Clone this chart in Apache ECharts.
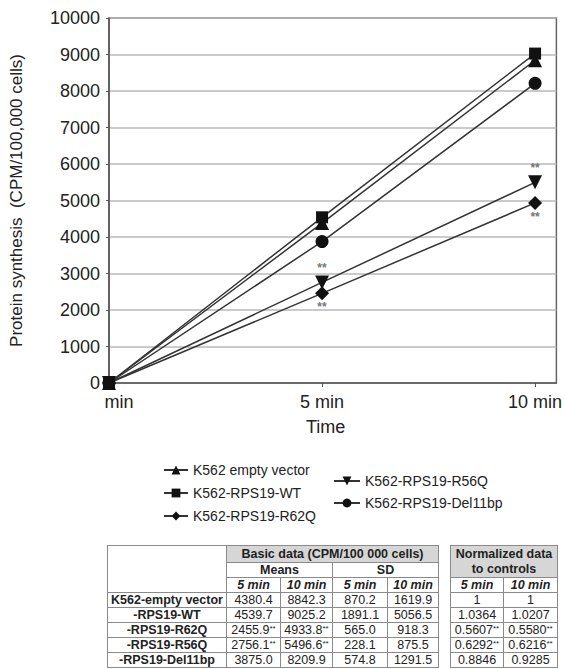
<!DOCTYPE html>
<html>
<head>
<meta charset="utf-8">
<script src="https://cdn.jsdelivr.net/npm/echarts@6/dist/echarts.min.js"></script>
<style>
  html, body { margin: 0; padding: 0; background: #fff; }
  body { width: 565px; height: 669px; overflow: hidden; position: relative; font-family: 'Liberation Sans', Arial, sans-serif; }
  #chart { position: absolute; left: 0; top: 0; width: 565px; height: 669px; }
  table { position: absolute; border-collapse: collapse; table-layout: fixed; font-size: 12.5px; color: #222; }
  td { border: 1px solid #8a8a8a; padding: 0; text-align: center; white-space: nowrap; overflow: hidden; line-height: 13px; height: 14px; }
  td.hd { background: #d6d6d6; font-weight: bold; }
  td.b { font-weight: bold; }
  td.bi { font-weight: bold; font-style: italic; }
  sup { font-size: 8px; vertical-align: 3px; line-height: 0; }
  #basic { left: 107px; top: 545px; }
  #norm { left: 450px; top: 545px; }
</style>
</head>
<body>
<div id="chart"></div>
<table id="basic"></table>
<table id="norm"></table>
<script>
(function() {
  // time points (min) and tick labels
  var times = [0, 5, 10];
  var timeLabels = ['min', '5 min', '10 min'];

  var groups = ['K562 empty vector', 'K562-RPS19-WT', 'K562-RPS19-R62Q', 'K562-RPS19-R56Q', 'K562-RPS19-Del11bp'];
  var rowLabels = ['K562-empty vector', '-RPS19-WT', '-RPS19-R62Q', '-RPS19-R56Q', '-RPS19-Del11bp'];

  // basic data (CPM/100 000 cells)
  var means5 = [4380.4, 4539.7, 2455.9, 2756.1, 3875.0];
  var means10 = [8842.3, 9025.2, 4933.8, 5496.6, 8209.9];
  var sd5 = [870.2, 1891.1, 565.0, 228.1, 574.8];
  var sd10 = [1619.9, 5056.5, 918.3, 875.5, 1291.5];
  // normalized to controls
  var norm5 = ['1', '1.0364', '0.5607', '0.6292', '0.8846'];
  var norm10 = ['1', '1.0207', '0.5580', '0.6216', '0.9285'];
  var significant = [false, false, true, true, false];

  var symbols = ['triangle', 'rect', 'diamond', 'triangle', 'circle'];
  var symbolRotate = [0, 0, 0, 180, 0];
  var symbolSizes = [14, 12, 14, 14, 13];
  var starPos = [null, null, 'bottom', 'top', null];

  var ink = '#222';

  var series = groups.map(function(name, i) {
    var vals = [0, means5[i], means10[i]];
    return {
      name: name,
      type: 'line',
      symbol: symbols[i],
      symbolRotate: symbolRotate[i],
      symbolSize: symbolSizes[i],
      z: i === 1 ? 5 : 2,
      lineStyle: { color: '#333', width: 1.5 },
      itemStyle: { color: '#111' },
      data: times.map(function(t, k) {
        var item = { value: [t, vals[k]] };
        if (significant[i] && k > 0) {
          item.label = {
            show: true, formatter: '**', position: starPos[i], distance: 1,
            color: '#777', fontSize: 12, fontWeight: 'bold'
          };
        }
        return item;
      })
    };
  });

  var chart = echarts.init(document.getElementById('chart'), null, { renderer: 'svg' });
  chart.setOption({
    animation: false,
    textStyle: { fontFamily: "'Liberation Sans', Arial, sans-serif" },
    grid: { left: 107, right: 7, top: 18, bottom: 286, show: true, borderColor: '#666', borderWidth: 1.5 },
    legend: [
      {
        data: groups.slice(0, 3), orient: 'vertical', left: 158, top: 458,
        itemWidth: 24, itemHeight: 11, itemGap: 9,
        textStyle: { color: ink, fontSize: 14 }
      },
      {
        data: groups.slice(3), orient: 'vertical', left: 328, top: 469,
        itemWidth: 26, itemHeight: 11, itemGap: 8,
        textStyle: { color: ink, fontSize: 14 }
      }
    ],
    xAxis: {
      type: 'value', min: 0, max: 10.5, interval: 5,
      name: 'Time', nameLocation: 'middle', nameGap: 35,
      nameTextStyle: { color: ink, fontSize: 18, padding: [0, 14, 0, 0] },
      axisLine: { lineStyle: { color: '#555', width: 1.5 } },
      axisTick: { show: true, length: 4, lineStyle: { color: '#555' } },
      splitLine: { show: false },
      axisLabel: {
        color: ink, fontSize: 18, margin: 10, showMaxLabel: false,
        formatter: function(v) {
          var k = times.indexOf(v);
          if (k < 0) return '';
          return k === 0 ? '{a|' + timeLabels[k] + '}' : timeLabels[k];
        },
        rich: { a: { fontSize: 18, color: ink, padding: [0, 0, 0, 20] } }
      }
    },
    yAxis: {
      type: 'value', min: 0, max: 10000, interval: 1000,
      name: 'Protein synthesis  (CPM/100,000 cells)', nameLocation: 'middle', nameGap: 84,
      nameTextStyle: { color: ink, fontSize: 17 },
      axisLine: { show: true, lineStyle: { color: '#555', width: 1.5 } },
      axisTick: { show: true, length: 3, lineStyle: { color: '#555' } },
      splitLine: { lineStyle: { color: '#b8b8b8', width: 1.5 } },
      axisLabel: { color: ink, fontSize: 18, margin: 9, formatter: function(v) { return String(v); } }
    },
    series: series
  });

  // tables
  function fmt(v) { return v.toFixed(1); }
  function star(s) { return s ? '<sup>**</sup>' : ''; }

  var h = '';
  h += '<colgroup><col style="width:119px"><col style="width:54px"><col style="width:52px"><col style="width:55px"><col style="width:51px"></colgroup>';
  h += '<tr><td rowspan="3" style="height:46px"></td><td class="hd" colspan="4" style="height:16px">Basic data (CPM/100 000 cells)</td></tr>';
  h += '<tr><td class="b" colspan="2">Means</td><td class="b" colspan="2">SD</td></tr>';
  h += '<tr><td class="bi">5 min</td><td class="bi">10 min</td><td class="bi">5 min</td><td class="bi">10 min</td></tr>';
  rowLabels.forEach(function(lab, i) {
    h += '<tr><td class="b">' + lab + '</td><td>' + fmt(means5[i]) + star(significant[i]) + '</td><td>' +
      fmt(means10[i]) + star(significant[i]) + '</td><td>' + fmt(sd5[i]) + '</td><td>' + fmt(sd10[i]) + '</td></tr>';
  });
  document.getElementById('basic').innerHTML = h;

  var n = '';
  n += '<colgroup><col style="width:53px"><col style="width:54px"></colgroup>';
  n += '<tr><td class="hd" colspan="2" style="height:31px;line-height:15px">Normalized data<br>to controls</td></tr>';
  n += '<tr><td class="bi">5 min</td><td class="bi">10 min</td></tr>';
  rowLabels.forEach(function(lab, i) {
    n += '<tr><td>' + norm5[i] + star(significant[i]) + '</td><td>' + norm10[i] + star(significant[i]) + '</td></tr>';
  });
  document.getElementById('norm').innerHTML = n;

  window.addEventListener('resize', function() { chart.resize(); });
})();
</script>
</body>
</html>
